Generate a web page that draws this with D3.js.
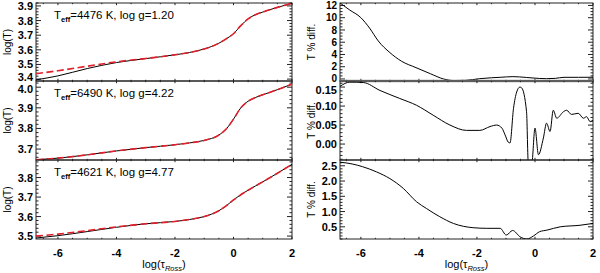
<!DOCTYPE html>
<html><head><meta charset="utf-8">
<script src="https://cdn.jsdelivr.net/npm/d3@7"></script>
<style>
body{margin:0;background:#fff}
svg{display:block}
text{font-family:"Liberation Sans",Arial,Helvetica,sans-serif;fill:#000}
</style>
</head><body>
<svg id="c" width="600" height="273"></svg>
<script>
// ---------------- data ----------------
const xTicks = [-6, -4, -2, 0, 2];

const tauLeft = [-6.75, -6, -5, -4, -3, -2, -1.5, -1, -0.5, -0.25, 0, 0.25, 0.5, 0.75, 1, 1.5, 2];
const logT1    = [3.395, 3.422, 3.472, 3.513, 3.540, 3.566, 3.582, 3.606, 3.645, 3.675, 3.710, 3.765, 3.812, 3.840, 3.858, 3.890, 3.918];
const logT1fit = [3.437, 3.457, 3.488, 3.518, 3.541, 3.566, 3.582, 3.606, 3.645, 3.675, 3.710, 3.765, 3.812, 3.840, 3.858, 3.890, 3.918];
const logT2    = [3.648, 3.656, 3.672, 3.691, 3.707, 3.721, 3.730, 3.742, 3.768, 3.797, 3.845, 3.900, 3.932, 3.950, 3.963, 3.988, 4.015];
const logT2fit = [3.648, 3.656, 3.672, 3.691, 3.707, 3.721, 3.730, 3.742, 3.768, 3.797, 3.845, 3.900, 3.932, 3.950, 3.963, 3.988, 4.015];
const logT3    = [3.490, 3.502, 3.523, 3.545, 3.563, 3.575, 3.585, 3.600, 3.630, 3.655, 3.685, 3.712, 3.735, 3.757, 3.778, 3.822, 3.868];
const logT3fit = [3.500, 3.510, 3.528, 3.547, 3.563, 3.575, 3.585, 3.600, 3.630, 3.655, 3.685, 3.712, 3.735, 3.757, 3.778, 3.822, 3.868];

const tauR1  = [-6.72, -6.4, -6.0, -5.7, -5.4, -5.0, -4.6, -4.1, -3.6, -3.15, -2.8, -2.4, -1.9, -1.5, -1.2, -0.76, -0.3, -0.07, 0.4, 0.7, 1.0, 1.5, 2.0];
const diff1  = [12.4, 11.3, 10.0, 8.3, 6.2, 4.3, 2.9, 1.85, 0.85, 0.0, -0.25, -0.22, 0.05, 0.2, 0.27, 0.38, 0.25, 0.16, 0.05, 0.1, 0.27, 0.27, 0.28];

const tauR2  = [-6.72, -6.38, -5.92, -5.34, -4.66, -4.08, -3.51, -2.93, -2.36, -1.90, -1.55, -1.32, -1.14, -1.03, -0.92, -0.86, -0.74, -0.63, -0.52, -0.46, -0.29, -0.23, -0.11, 0.0, 0.12, 0.29, 0.40, 0.52, 0.63, 0.75, 0.98, 1.09, 1.26, 1.49, 1.67, 1.78, 1.90, 2.0];
const diff2  = [0.152, 0.163, 0.162, 0.141, 0.120, 0.102, 0.076, 0.050, 0.036, 0.036, 0.046, 0.050, 0.042, 0.024, 0.005, 0.003, 0.094, 0.137, 0.150, 0.148, 0.085, -0.05, -0.05, 0.042, -0.028, 0.016, 0.055, 0.033, 0.089, 0.068, 0.085, 0.089, 0.078, 0.081, 0.068, 0.072, 0.059, 0.063];

const tauR3  = [-6.72, -6.3, -5.94, -5.46, -5.0, -4.54, -4.08, -3.74, -3.28, -2.81, -2.13, -1.66, -1.2, -0.99, -0.77, -0.51, -0.28, -0.05, 0.16, 0.41, 0.87, 1.55, 2.0];
const diff3  = [2.62, 2.56, 2.47, 2.30, 2.08, 1.76, 1.32, 1.10, 0.83, 0.61, 0.47, 0.45, 0.45, 0.23, 0.38, 0.17, 0.10, 0.20, 0.34, 0.39, 0.50, 0.55, 0.61];

const labels = [
  {teff: "4476", logg: "1.20"},
  {teff: "6490", logg: "4.22"},
  {teff: "4621", logg: "4.77"}
];

const yTicksL = [[3.4, 3.5, 3.6, 3.7, 3.8, 3.9], [3.7, 3.8, 3.9, 4.0], [3.5, 3.6, 3.7, 3.8]];
const yTicksR = [[0, 2, 4, 6, 8, 10, 12], [0.00, 0.05, 0.10, 0.15], [0.5, 1.0, 1.5, 2.0, 2.5]];
const yMinorL = [0.02, 0.02, 0.02];
const yMinorR = [0.5, 0.01, 0.1];
const yDomL = [[3.387, 3.92], [3.647, 4.03], [3.485, 3.89]];
const yDomR = [[-0.33, 12.4], [-0.042, 0.166], [0.1, 2.69]];
const yFmtL = [".1f", ".1f", ".1f"];
const yFmtR = ["d", ".2f", ".1f"];

// ---------------- layout ----------------
const svg = d3.select("#c");
const bands = [[3, 81], [81, 160], [160, 239]];
const colL = [36, 292], colR = [340, 593];
const xDomL = [-6.75, 2], xDomR = [-6.72, 2];
// label font sizes and seam nudges [bottom label shift, top label shift]
const fsL = [11, 11, 11], fsR = [10, 11, 11];
const nudgeL = [[-2.2, 0], [0, 2.2], [0, 0]];
const nudgeR = [[-0.8, 0], [0, 2.6], [0, 0]];

const xL = d3.scaleLinear().domain(xDomL).range(colL);
const xR = d3.scaleLinear().domain(xDomR).range(colR);

const leftSeries = [[logT1, logT1fit], [logT2, logT2fit], [logT3, logT3fit]];
const rightSeries = [[tauR1, diff1], [tauR2, diff2], [tauR3, diff3]];

function minorVals(dom, step) {
  const out = [];
  const s = Math.ceil(dom[0] / step - 1e-9);
  for (let k = s; k * step <= dom[1] + 1e-9; k++) out.push(+(k * step).toFixed(6));
  return out;
}

let clipId = 0;
function panel(x, y, yTicks, yMinor, fmt, showX, fs, nudge) {
  const [x0, x1] = x.range();
  const [yb, yt] = y.range();
  const g = svg.append("g");
  g.append("rect").attr("x", x0).attr("y", yt).attr("width", x1 - x0).attr("height", yb - yt)
    .attr("fill", "none").attr("stroke", "#222").attr("stroke-width", 1);
  const xmaj = 2.2, xmin = 1.2, ymaj = 5, ymin = 2.5;
  const xMin = minorVals(x.domain(), 0.5);
  xMin.forEach(v => {
    const isMaj = Math.abs(v / 2 - Math.round(v / 2)) < 1e-6;
    const L = isMaj ? xmaj : xmin;
    g.append("line").attr("x1", x(v)).attr("x2", x(v)).attr("y1", yb).attr("y2", yb - L).attr("stroke", "#222");
    g.append("line").attr("x1", x(v)).attr("x2", x(v)).attr("y1", yt).attr("y2", yt + L).attr("stroke", "#222");
  });
  const yMin = minorVals(y.domain(), yMinor);
  const majSet = yTicks.map(v => +v.toFixed(6));
  yMin.forEach(v => {
    const isMaj = majSet.some(m => Math.abs(m - v) < 1e-6);
    const L = isMaj ? ymaj : ymin;
    g.append("line").attr("x1", x0).attr("x2", x0 + L).attr("y1", y(v)).attr("y2", y(v)).attr("stroke", "#222");
    g.append("line").attr("x1", x1).attr("x2", x1 - L).attr("y1", y(v)).attr("y2", y(v)).attr("stroke", "#222");
  });
  const f = d3.format(fmt);
  yTicks.forEach((v, k) => {
    let yy = y(v);
    if (k === 0) yy += nudge[0];
    if (k === yTicks.length - 1) yy += nudge[1];
    g.append("text").attr("x", x0 - 3).attr("y", yy).attr("dy", "0.36em")
      .attr("text-anchor", "end").attr("font-size", fs).attr("font-weight", "bold").text(f(v));
  });
  if (showX) {
    xTicks.forEach(v => {
      g.append("text").attr("x", x(v)).attr("y", 257).attr("text-anchor", "middle")
        .attr("font-size", 11).attr("font-weight", "bold").text(v);
    });
  }
  const id = "clip" + (clipId++);
  svg.append("clipPath").attr("id", id).append("rect")
    .attr("x", x0).attr("y", yt).attr("width", x1 - x0).attr("height", yb - yt);
  return {g, id};
}

// ---- left column ----
bands.forEach((b, i) => {
  const y = d3.scaleLinear().domain(yDomL[i]).range([b[1], b[0]]);
  const {g, id} = panel(xL, y, yTicksL[i], yMinorL[i], yFmtL[i], i === 2, fsL[i], nudgeL[i]);
  const line = d3.line().x((d, j) => xL(tauLeft[j])).y(d => y(d)).curve(d3.curveMonotoneX);
  const cg = g.append("g").attr("clip-path", `url(#${id})`);
  cg.append("path").attr("d", line(leftSeries[i][0])).attr("fill", "none").attr("stroke", "#000").attr("stroke-width", 1);
  cg.append("path").attr("d", line(leftSeries[i][1])).attr("fill", "none").attr("stroke", "#e0202a")
    .attr("stroke-width", 1.6).attr("stroke-dasharray", "7,3.5");
  const t = g.append("text").attr("x", 54).attr("y", b[0] + 16).attr("font-size", 11.5);
  t.append("tspan").text("T");
  t.append("tspan").attr("font-size", 7.5).attr("dy", 3).attr("font-weight", "bold").text("eff");
  t.append("tspan").attr("dy", -3).text(`=${labels[i].teff} K, log g=${labels[i].logg}`);
  g.append("text").attr("transform", `translate(11,${(b[0] + b[1]) / 2}) rotate(-90)`)
    .attr("text-anchor", "middle").attr("font-size", 10).text("log(T)");
});

// ---- right column ----
bands.forEach((b, i) => {
  const y = d3.scaleLinear().domain(yDomR[i]).range([b[1], b[0]]);
  const {g, id} = panel(xR, y, yTicksR[i], yMinorR[i], yFmtR[i], i === 2, fsR[i], nudgeR[i]);
  const [tx, ty] = rightSeries[i];
  const line = d3.line().x((d, j) => xR(tx[j])).y(d => y(d)).curve(d3.curveMonotoneX);
  const cg = g.append("g").attr("clip-path", `url(#${id})`);
  cg.append("path").attr("d", line(ty)).attr("fill", "none").attr("stroke", "#000").attr("stroke-width", 1);
  g.append("text").attr("transform", `translate(315,${(b[0] + b[1]) / 2}) rotate(-90)`)
    .attr("text-anchor", "middle").attr("font-size", 10).text("T % diff.");
  if (i === 0) {
    g.append("line").attr("x1", colR[0]).attr("x2", colR[1]).attr("y1", b[1]).attr("y2", b[1])
      .attr("stroke", "#999").attr("stroke-width", 2.5);
  }
});

// x titles
[[xL, colL], [xR, colR]].forEach(([x, col]) => {
  const cx = (col[0] + col[1]) / 2;
  const t = svg.append("text").attr("x", cx).attr("y", 268).attr("text-anchor", "middle").attr("font-size", 11);
  t.append("tspan").text("log(τ");
  t.append("tspan").attr("font-size", 7.5).attr("dy", 2.5).attr("font-style", "italic").text("Ross");
  t.append("tspan").attr("dy", -2.5).text(")");
});
</script>
</body></html>
